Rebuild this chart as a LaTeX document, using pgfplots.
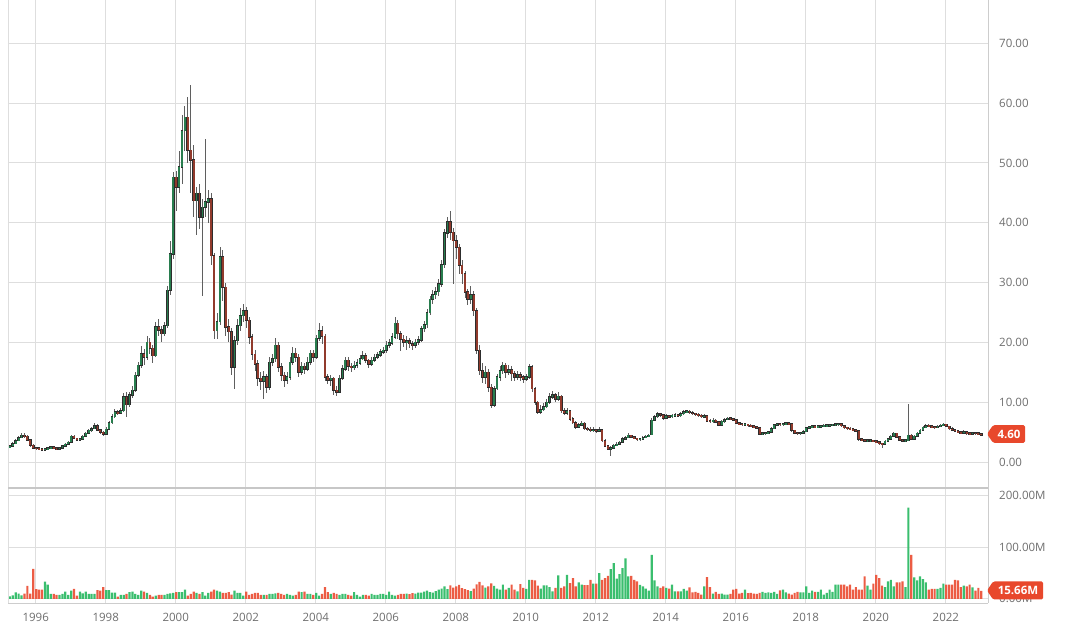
\documentclass[border=0pt]{standalone}
\usepackage{pgfplots}
\pgfplotsset{compat=1.18}
\usepackage{pgfplotstable}
\usepackage{fontspec}
\setmainfont{Open Sans}
\definecolor{upc}{RGB}{40,125,78}
\definecolor{dnc}{RGB}{145,58,44}
\definecolor{wick}{RGB}{95,95,95}
\definecolor{edge}{RGB}{45,45,45}
\definecolor{vup}{RGB}{58,190,110}
\definecolor{vdn}{RGB}{236,92,68}
\definecolor{gridc}{RGB}{222,222,222}
\definecolor{framec}{RGB}{205,205,205}
\definecolor{tagc}{RGB}{232,72,44}
\definecolor{labc}{RGB}{110,110,110}

\pgfplotstableread{
k o h l c v
0 2.5 2.9 2.4 2.7 5
1 2.7 3.3 2.6 3.1 7
2 3.1 3.8 3.0 3.6 12.5
3 3.6 4.4 3.5 4.1 10
4 4.1 4.8 4.0 4.5 7
5 4.5 4.8 4.1 4.3 10
6 4.3 4.5 3.5 3.7 25
7 3.7 3.9 2.6 2.8 10
8 2.8 3.0 2.2 2.4 58
9 2.4 2.6 2.1 2.3 19
10 2.3 2.5 2.0 2.2 18
11 2.2 2.4 2.0 2.1 18
12 2.1 2.4 2.0 2.2 33.6
13 2.2 2.5 2.1 2.3 27.8
14 2.3 2.7 2.2 2.5 9.7
15 2.5 2.6 2.2 2.3 9.7
16 2.3 2.4 2.0 2.2 7.8
17 2.2 2.6 2.1 2.4 7.8
18 2.4 2.9 2.3 2.7 9.7
19 2.7 3.2 2.6 3.0 14.3
20 3.0 3.5 2.9 3.3 7.8
21 3.3 4.6 3.2 4.3 16.2
22 4.3 4.6 3.8 4.0 19.4
23 4.0 4.1 3.5 3.7 6.5
24 3.7 4.1 3.5 3.9 14
25 3.9 4.5 3.8 4.3 10.5
26 4.3 5.0 4.2 4.8 14.3
27 4.8 5.6 4.7 5.3 9.7
28 5.3 5.9 5.1 5.6 9.7
29 5.6 6.5 5.5 6.1 9.7
30 6.1 6.3 5.2 5.4 17
31 5.4 5.6 4.7 5.0 16.2
32 5.0 5.2 4.4 4.7 22.6
33 4.7 5.8 4.6 5.5 17
34 5.5 6.9 5.3 6.6 17
35 6.6 8.0 6.4 7.6 12
36 7.6 8.9 7.4 8.4 12
37 8.4 8.8 7.9 8.2 4.6
38 8.2 9.1 8.0 8.6 7.8
39 8.6 11.5 8.4 10.9 7.8
40 10.9 11.8 7.6 9.6 9.7
41 9.6 11.8 9.3 11.2 13
42 11.2 12.8 10.8 12.0 14.3
43 12.0 15.0 11.8 14.5 9.7
44 14.5 16.8 14.2 16.2 7.8
45 16.2 19.4 15.8 18.1 16.2
46 18.1 18.9 16.2 17.5 14.3
47 17.5 21.0 17.0 20.0 11.7
48 20.0 20.8 18.0 19.0 7.8
49 19.0 19.5 16.6 17.8 4.6
50 17.8 23.5 17.5 22.6 6.5
51 22.6 24.0 21.0 22.1 7.8
52 22.1 22.8 20.0 21.5 7.8
53 21.5 23.5 21.0 22.8 7.8
54 22.8 29.5 22.5 28.7 9.7
55 28.7 37.0 28.0 34.8 10.5
56 34.8 48.5 34.0 47.6 11.7
57 47.6 48.7 42.0 46.0 13
58 46.0 52.0 45.0 49.3 13
59 49.3 58.0 46.5 55.4 13
60 55.4 59.5 52.0 57.6 18
61 57.6 61.0 50.0 52.1 6.5
62 52.1 63.0 45.0 50.5 9.7
63 50.5 53.0 41.0 43.7 14.3
64 43.7 46.0 38.0 44.9 11.7
65 44.9 46.5 39.0 40.9 9.7
66 40.9 44.0 27.8 42.6 13
67 42.6 54.0 41.0 43.5 6.5
68 43.5 45.5 40.0 44.0 11.7
69 44.0 45.0 33.0 34.5 14.3
70 34.5 35.0 20.5 22.0 18
71 22.0 25.0 20.5 23.5 16.2
72 23.5 36.0 23.0 34.3 14.3
73 34.3 35.5 27.0 29.2 11.7
74 29.2 30.0 21.0 22.6 11.7
75 22.6 24.0 20.0 21.8 13
76 21.8 22.5 14.5 15.9 8.5
77 15.9 21.0 12.3 20.3 16.2
78 20.3 24.0 19.5 22.8 11.7
79 22.8 25.8 22.0 24.5 11.7
80 24.5 26.5 23.5 25.3 6.5
81 25.3 26.0 22.5 23.7 14.3
82 23.7 24.2 19.8 20.9 7.8
83 20.9 21.5 17.0 18.0 9.7
84 18.0 18.8 15.2 16.4 11.7
85 16.4 17.0 12.8 14.0 11.7
86 14.0 15.0 12.0 13.5 7.8
87 13.5 15.2 10.6 14.2 7.8
88 14.2 14.8 11.5 12.5 7.8
89 12.5 17.5 12.0 16.7 9.7
90 16.7 18.0 16.0 17.3 9.7
91 17.3 20.8 16.8 19.5 10.5
92 19.5 20.0 15.0 15.9 11.7
93 15.9 16.5 13.5 14.5 9.7
94 14.5 15.0 12.5 13.7 7.8
95 13.7 15.0 13.0 14.2 9.7
96 14.2 17.5 13.8 16.7 7.8
97 16.7 19.2 16.2 18.2 6.5
98 18.2 19.0 16.8 17.5 7.8
99 17.5 18.0 14.2 15.0 14.3
100 15.0 16.8 14.5 16.0 13
101 16.0 16.5 14.8 15.6 14.3
102 15.6 17.5 15.2 16.7 9.7
103 16.7 18.8 16.2 18.2 9.7
104 18.2 18.7 16.8 17.5 7.8
105 17.5 21.3 17.2 20.7 11.7
106 20.7 23.3 20.2 22.0 6.5
107 22.0 22.8 19.8 21.0 9.7
108 21.0 21.5 13.5 14.2 22.6
109 14.2 14.8 13.0 13.7 13
110 13.7 14.6 12.8 14.0 9.7
111 14.0 14.3 11.3 12.0 11.7
112 12.0 12.8 11.0 11.7 9.7
113 11.7 14.5 11.5 14.0 7.8
114 14.0 16.2 13.7 15.6 9.7
115 15.6 17.6 15.2 17.0 9.7
116 17.0 17.5 15.2 16.0 7.8
117 16.0 16.6 15.0 15.8 6.5
118 15.8 16.9 15.4 16.2 13
119 16.2 17.3 15.8 16.6 7.8
120 16.6 17.9 16.2 17.3 4.6
121 17.3 18.5 17.0 17.8 7.8
122 17.8 18.2 16.5 17.0 7.8
123 17.0 17.3 15.8 16.4 6.5
124 16.4 17.5 16.0 17.0 9.7
125 17.0 18.0 16.7 17.5 7.8
126 17.5 18.4 17.2 17.9 7.8
127 17.9 18.9 17.5 18.4 9.7
128 18.4 19.3 18.0 18.7 9.7
129 18.7 20.2 18.3 19.5 7.8
130 19.5 20.6 19.0 19.9 14.3
131 19.9 21.6 19.5 20.9 7.8
132 20.9 24.3 20.5 23.2 6.5
133 23.2 23.8 20.5 21.5 7.8
134 21.5 22.0 18.5 20.5 9.7
135 20.5 21.2 19.2 20.0 9.7
136 20.0 21.0 18.8 20.3 10
137 20.3 20.8 19.0 19.8 9
138 19.8 20.3 18.7 19.5 11
139 19.5 20.6 19.0 20.0 10
140 20.0 21.0 19.5 20.4 12
141 20.4 22.8 20.0 22.3 12
142 22.3 23.6 21.7 23.0 14
143 23.0 25.6 22.5 25.0 16
144 25.0 27.8 24.6 27.2 13
145 27.2 28.8 26.5 28.0 12
146 28.0 29.3 27.3 28.5 15
147 28.5 30.6 27.8 29.8 18
148 29.8 33.8 29.3 33.0 20
149 33.0 39.0 32.5 38.3 24
150 38.3 41.0 37.5 40.1 19
151 40.1 42.0 37.2 38.4 26
152 38.4 39.2 29.8 37.0 22
153 37.0 38.0 34.0 35.9 24
154 35.9 36.5 31.5 32.9 27
155 32.9 33.8 29.8 31.5 21
156 31.5 32.0 27.5 28.4 19
157 28.4 29.0 26.2 27.3 17
158 27.3 29.5 26.5 28.0 15
159 28.0 28.6 24.5 25.3 20
160 25.3 25.8 18.0 18.7 28
161 18.7 19.5 14.5 15.3 33
162 15.3 16.5 13.2 14.2 26
163 14.2 16.0 13.0 15.0 22
164 15.0 15.5 11.8 12.5 24
165 12.5 13.0 9.0 9.5 30
166 9.5 12.8 9.2 12.3 25
167 12.3 14.8 12.0 14.2 20
168 14.2 16.0 13.5 15.3 17.9
169 15.3 16.8 14.8 16.2 27.5
170 16.2 16.6 14.0 15.0 17.9
171 15.0 16.2 14.5 15.4 21.1
172 15.4 16.0 13.5 14.8 27.5
173 14.8 15.3 13.6 14.2 17.9
174 14.2 15.2 13.8 14.6 14.7
175 14.6 15.0 13.5 14.2 28.8
176 14.2 14.6 13.2 13.9 21.1
177 13.9 14.8 13.5 14.2 19.2
178 14.2 16.4 13.9 15.9 37
179 15.9 16.2 11.8 12.3 37
180 12.3 12.6 9.6 10.0 35.8
181 10.0 10.3 8.0 8.4 25.6
182 8.4 9.5 8.1 8.8 19.8
183 8.8 9.9 8.5 9.3 26.2
184 9.3 10.5 9.0 10.0 26.2
185 10.0 11.6 9.8 10.9 23
186 10.9 11.9 10.6 11.3 14.7
187 11.3 11.6 10.0 10.5 21.1
188 10.5 11.7 10.2 11.0 45.4
189 11.0 11.3 8.3 8.6 21.1
190 8.6 9.0 7.8 8.2 24.3
191 8.2 9.0 7.9 8.6 46.6
192 8.6 8.8 6.9 7.2 30.7
193 7.2 7.5 6.3 6.6 40.3
194 6.6 6.9 5.6 5.9 24.3
195 5.9 6.6 5.7 6.2 31.9
196 6.2 6.9 6.0 6.5 27.5
197 6.5 6.7 5.4 5.6 26.8
198 5.6 5.9 5.2 5.5 26.8
199 5.5 5.8 5.0 5.3 37
200 5.3 5.8 5.0 5.4 29.4
201 5.4 5.6 4.9 5.2 29.4
202 5.2 5.8 5.0 5.4 49.8
203 5.4 5.6 3.4 3.6 37
204 3.6 3.8 2.5 2.7 40.3
205 2.7 2.9 2.0 2.2 44.7
206 2.2 2.7 1.1 2.4 57.5
207 2.4 3.0 2.3 2.8 69
208 2.8 3.3 2.7 3.0 39
209 3.0 3.6 2.9 3.3 48
210 3.3 4.2 3.2 3.9 59.4
211 3.9 4.4 3.8 4.1 78.6
212 4.1 4.8 4.0 4.5 43.5
213 4.5 4.6 4.0 4.2 44.7
214 4.2 4.3 3.8 4.0 37
215 4.0 4.1 3.6 3.8 33.9
216 3.8 4.1 3.6 3.9 27
217 3.9 4.3 3.8 4.1 24.3
218 4.1 4.5 4.0 4.3 20
219 4.3 4.7 4.2 4.5 16
220 4.6 7.3 4.5 7.0 85
221 7.0 7.9 6.8 7.6 35.8
222 7.6 8.4 7.4 8.1 24.3
223 8.1 8.3 7.6 7.9 21.1
224 7.9 8.0 7.1 7.4 24.3
225 7.4 8.0 7.2 7.7 21.1
226 7.7 7.9 7.3 7.6 19.8
227 7.6 8.1 7.4 7.8 27.5
228 7.8 8.2 7.6 7.9 14.7
229 7.9 8.1 7.5 7.8 14.7
230 7.8 8.4 7.6 8.1 14.7
231 8.1 8.7 7.9 8.4 19.2
232 8.4 8.8 8.2 8.5 16
233 8.5 8.7 8.0 8.3 22.4
234 8.3 8.5 7.9 8.1 12.8
235 8.1 8.3 7.7 8.0 13.4
236 8.0 8.2 7.5 7.8 11.5
237 7.8 8.0 7.3 7.6 8.3
238 7.6 8.0 7.4 7.7 24.3
239 7.7 7.9 6.7 6.9 42.2
240 6.9 7.2 6.5 6.8 23
241 6.8 7.3 6.6 7.0 10.2
242 7.0 7.2 6.5 6.7 13.4
243 6.7 6.9 6.0 6.2 9.6
244 6.2 7.0 6.1 6.8 10.2
245 6.8 7.4 6.6 7.1 8.3
246 7.1 7.6 7.0 7.3 8.3
247 7.3 7.5 7.0 7.2 9.6
248 7.2 7.4 6.9 7.1 17.9
249 7.1 7.2 6.3 6.5 19.2
250 6.5 6.7 6.2 6.4 10.2
251 6.4 6.6 6.1 6.3 11.5
252 6.3 6.5 6.0 6.3 17.9
253 6.3 6.4 5.9 6.1 11.0
254 6.1 6.3 5.8 6.0 11.5
255 6.0 6.2 5.7 5.9 10.2
256 5.9 6.1 5.5 5.7 9.6
257 5.7 5.8 4.5 4.7 11.5
258 4.7 5.0 4.5 4.8 13.4
259 4.8 5.1 4.6 4.9 11.5
260 4.9 5.2 4.7 5.0 12.8
261 5.0 5.8 4.9 5.6 11.5
262 5.6 6.4 5.5 6.2 13.4
263 6.2 6.6 6.0 6.4 9.6
264 6.4 6.6 6.1 6.3 16.6
265 6.3 6.6 6.1 6.4 17.9
266 6.4 6.7 6.2 6.5 12.8
267 6.5 6.7 6.2 6.4 10.2
268 6.4 6.5 5.1 5.3 8.3
269 5.3 5.4 4.7 4.9 11.5
270 4.9 5.0 4.6 4.8 13.4
271 4.8 5.1 4.6 4.9 12.8
272 4.9 5.3 4.8 5.1 12.8
273 5.1 5.9 5.0 5.7 24.3
274 5.7 6.1 5.6 5.9 11.5
275 5.9 6.2 5.7 6.0 16
276 6.0 6.1 5.7 5.9 13.4
277 5.9 6.2 5.7 6.0 13.4
278 6.0 6.2 5.8 6.0 17.9
279 6.0 6.3 5.8 6.1 8.3
280 6.1 6.3 5.9 6.1 11.5
281 6.1 6.4 5.9 6.2 17.9
282 6.2 6.4 6.0 6.2 13.4
283 6.2 6.5 6.0 6.3 27.5
284 6.3 6.6 6.1 6.4 27.5
285 6.4 6.5 5.9 6.1 27.5
286 6.1 6.2 5.6 5.8 27.5
287 5.8 5.9 5.4 5.6 24.3
288 5.6 5.8 5.3 5.5 27.5
289 5.5 5.7 5.2 5.4 17.9
290 5.4 5.5 5.0 5.2 23
291 5.2 5.3 3.6 3.8 17.9
292 3.8 4.0 3.5 3.7 17.9
293 3.7 3.9 3.4 3.6 43.5
294 3.6 3.8 3.4 3.6 25.6
295 3.6 3.8 3.4 3.6 17.9
296 3.6 3.7 3.3 3.5 29.4
297 3.5 3.6 3.2 3.4 46.6
298 3.4 3.5 2.9 3.1 40.3
299 3.1 3.2 2.4 3.0 25.6
300 3.0 3.7 2.9 3.5 23
301 3.5 4.1 3.4 3.9 33.9
302 3.9 4.5 3.8 4.3 37
303 4.3 5.0 4.2 4.8 24.3
304 4.8 4.9 4.0 4.2 31.9
305 4.2 4.3 3.5 3.7 31.9
306 3.7 3.9 3.4 3.6 33.9
307 3.6 3.8 3.4 3.6 23
308 3.6 9.8 3.5 4.5 176.4
309 4.5 4.7 3.7 3.9 85
310 3.9 4.5 3.8 4.3 41.5
311 4.3 5.0 4.2 4.8 35.8
312 4.8 5.5 4.7 5.3 43.5
313 5.3 6.0 5.2 5.8 38.3
314 5.8 6.3 5.7 6.1 31.9
315 6.1 6.3 5.8 6.0 17.9
316 6.0 6.2 5.7 5.9 19.2
317 5.9 6.1 5.6 5.8 19.2
318 5.8 6.2 5.7 6.0 19.2
319 6.0 6.3 5.8 6.1 21.1
320 6.1 6.5 6.0 6.3 29.4
321 6.3 6.4 5.8 6.0 27.5
322 6.0 6.1 5.4 5.6 27.5
323 5.6 5.8 5.2 5.4 27.5
324 5.4 5.6 5.0 5.2 37
325 5.2 5.3 4.8 5.0 35.8
326 5.0 5.2 4.7 4.9 23
327 4.9 5.3 4.8 5.1 25.6
328 5.1 5.2 4.6 4.8 24.3
329 4.8 5.0 4.5 4.7 27.5
330 4.7 5.1 4.6 4.9 22.4
331 4.9 5.0 4.6 4.8 16
332 4.8 4.9 4.5 4.7 21.1
333 4.7 4.8 4.5 4.6 15.66
}\data

\pgfplotsset{
  common/.style={
    scale only axis, width=980pt, xmin=-0.65, xmax=335.3,
    axis line style={draw=none}, major tick length=0pt,
    xtick={8.85,32.85,...,320.85},
    grid=major, major grid style={draw=gridc, line width=0.9pt},
    tick label style={font=\fontsize{11.5}{13}\selectfont, text=labc},
    anchor=south west,
  },
  upf/.style={restrict expr to domain={\thisrow{c}-\thisrow{o}}{0:1000}},
  dnf/.style={restrict expr to domain={\thisrow{c}-\thisrow{o}}{-1000:-0.001}},
}

\begin{document}
\begin{tikzpicture}
\path (0pt,0pt) rectangle (1076pt,642pt);

\begin{axis}[common, at={(8pt,155pt)}, height=487pt,
  ymin=-4.23, ymax=77.14,
  ytick={0,10,20,30,40,50,60,70},
  yticklabels={0.00,10.00,20.00,30.00,40.00,50.00,60.00,70.00},
  yticklabel pos=right,
  yticklabel style={anchor=west, inner sep=0pt, xshift=11pt},
  xticklabels={}]
% wicks
\addplot[draw=none, mark=none, forget plot,
  error bars/.cd, y dir=both, y explicit, error mark=none,
  error bar style={draw=wick, line width=0.85pt}]
  table[x=k, y expr={(\thisrow{h}+\thisrow{l})/2}, y error expr={(\thisrow{h}-\thisrow{l})/2}] {\data};
% body outlines
\addplot[draw=none, mark=none, forget plot,
  error bars/.cd, y dir=both, y explicit, error mark=none,
  error bar style={draw=edge, line width=2.8pt}]
  table[x=k, y expr={(\thisrow{o}+\thisrow{c})/2}, y error expr={max(abs(\thisrow{c}-\thisrow{o})/2,0.1)+0.12}] {\data};
% up bodies
\addplot[draw=none, mark=none, forget plot, upf,
  error bars/.cd, y dir=both, y explicit, error mark=none,
  error bar style={draw=upc, line width=1.8pt}]
  table[x=k, y expr={(\thisrow{o}+\thisrow{c})/2}, y error expr={max(abs(\thisrow{c}-\thisrow{o})/2,0.1)}] {\data};
% down bodies
\addplot[draw=none, mark=none, forget plot, dnf,
  error bars/.cd, y dir=both, y explicit, error mark=none,
  error bar style={draw=dnc, line width=1.8pt}]
  table[x=k, y expr={(\thisrow{o}+\thisrow{c})/2}, y error expr={max(abs(\thisrow{c}-\thisrow{o})/2,0.1)}] {\data};
\end{axis}

\begin{axis}[common, at={(8pt,39pt)}, height=116pt,
  ymin=-8.9, ymax=215.5,
  ytick={0,100,200},
  yticklabels={0.00M,100.00M,200.00M},
  yticklabel pos=right,
  yticklabel style={anchor=west, inner sep=0pt, xshift=11pt},
  xticklabels={1996,1998,2000,2002,2004,2006,2008,2010,2012,2014,2016,2018,2020,2022},
  xticklabel style={anchor=center, inner sep=0pt, yshift=-14pt}]
\addplot[ybar, bar width=2.2pt, bar shift=0pt, fill=vup, draw=none, upf] table[x=k, y=v] {\data};
\addplot[ybar, bar width=2.2pt, bar shift=0pt, fill=vdn, draw=none, dnf] table[x=k, y=v] {\data};
\end{axis}

% frame lines
\draw[framec, line width=1pt] (988pt,642pt) -- (988pt,39pt);
\draw[gridc, line width=0.9pt] (8pt,642pt) -- (8pt,39pt);
\draw[framec, line width=1pt] (8pt,39pt) -- (988pt,39pt);
\draw[black!22, line width=2pt] (8pt,154.5pt) -- (988pt,154.5pt);

% last value tags
\fill[tagc, rounded corners=1.5pt] (987pt,208.5pt) -- (993pt,217.3pt) -- (1025pt,217.3pt) -- (1025pt,199.7pt) -- (993pt,199.7pt) -- cycle;
\node[text=white, font=\fontsize{11.5}{13}\selectfont\bfseries] at (1009pt,208.5pt) {4.60};
\fill[tagc, rounded corners=1.5pt] (987pt,52pt) -- (993pt,61pt) -- (1043pt,61pt) -- (1043pt,43pt) -- (993pt,43pt) -- cycle;
\node[text=white, font=\fontsize{11.5}{13}\selectfont\bfseries] at (1018pt,52pt) {15.66M};
\end{tikzpicture}
\end{document}
